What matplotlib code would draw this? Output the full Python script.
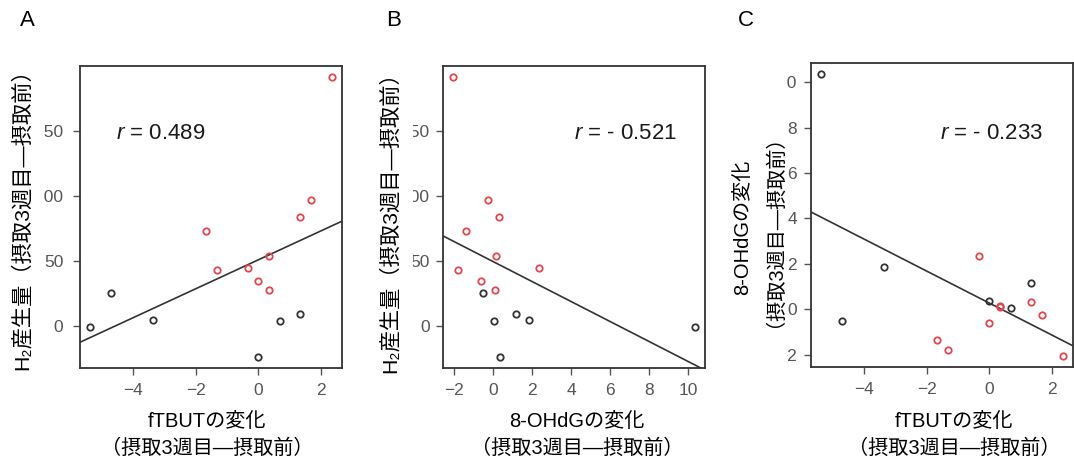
import numpy as np
import matplotlib
matplotlib.use('Agg')
import matplotlib.pyplot as plt
from matplotlib.transforms import Bbox

# ---- data: one entry per subject ----
group = ['red'] * 9 + ['black'] * 6
ftbut = [2.35, 1.68, 1.33, -1.67, -1.33, -0.33, 0.35, 0.00, 0.35,
         -5.37, -4.70, -3.37, 0.67, 1.33, 0.00]            # fTBUT change
h2 = [191.0, 97.0, 83.4, 72.7, 43.0, 44.4, 53.8, 34.7, 28.0,
      -0.5, 25.3, 4.4, 3.6, 9.7, -23.5]                     # H2 production change
ohdg = [-2.05, -0.24, 0.32, -1.35, -1.80, 2.35, 0.15, -0.60, 0.10,
        10.35, -0.52, 1.84, 0.07, 1.17, 0.37]              # 8-OHdG change

panel_letters = ['A', 'B', 'C']
r_texts = ['$r$ = 0.489', '$r$ = - 0.521', '$r$ = - 0.233']
xlabel_l1 = ['fTBUTの変化', '8-OHdGの変化', 'fTBUTの変化']
sub_label = '（摂取3週目—摂取前）'
h2_label = 'H₂産生量（摂取3週目—摂取前）'
ohdg_label = '8-OHdGの変化'

xticks_A = [-4, -2, 0, 2]
xticks_B = [-2, 0, 2, 4, 6, 8, 10]
yticks_h2 = [0, 50, 100, 150]
yticks_oh = [-2, 0, 2, 4, 6, 8, 10]

plt.rcParams['font.family'] = ['Liberation Sans', 'Noto Sans CJK JP', 'DejaVu Sans']
plt.rcParams['mathtext.fontset'] = 'custom'
plt.rcParams['mathtext.rm'] = 'Liberation Sans'
plt.rcParams['mathtext.it'] = 'Liberation Sans:italic'

W, H = 1074, 463
fig = plt.figure(figsize=(W / 100, H / 100), dpi=100)

COL = {'red': '#e2474f', 'black': '#333333'}
TICKC = '#555555'


def px_axes(l, r, t, b):
    return fig.add_axes([l / W, 1 - b / H, (r - l) / W, (b - t) / H])


def rlim(v):
    lo, hi = min(v), max(v)
    p = 0.04 * (hi - lo)
    return lo - p, hi + p


def panel(ax, x, y, xt, yt, rtxt, rpos, ypad):
    x = np.asarray(x)
    y = np.asarray(y)
    for g in ('black', 'red'):
        m = np.array([gg == g for gg in group])
        ax.plot(x[m], y[m], 'o', mfc='none', mec=COL[g], ms=4.6, mew=1.3,
                zorder=3)
    xl = rlim(x)
    yl = rlim(y)
    ax.set_xlim(xl)
    ax.set_ylim(yl)
    k, c = np.polyfit(x, y, 1)
    xs = np.array(xl)
    ax.plot(xs, k * xs + c, color='#333333', lw=1.2, zorder=2)
    ax.set_xticks(xt)
    ax.set_yticks(yt)
    for s in ax.spines.values():
        s.set_color('#333333')
        s.set_linewidth(1.3)
    ax.tick_params(colors=TICKC, labelcolor=TICKC, labelsize=12.5,
                   length=5, width=1)
    ax.tick_params(axis='x', pad=6)
    ax.tick_params(axis='y', pad=ypad)
    ax.text(rpos[0], rpos[1], rtxt, transform=ax.transAxes, ha='center',
            va='center', fontsize=16, color='#1a1a1a')


axA = px_axes(80, 342, 66, 368)
axB = px_axes(443, 705, 66, 368)
axC = px_axes(811, 1073, 63, 367)

panel(axA, ftbut, h2, xticks_A, yticks_h2, r_texts[0], (0.309, 0.778), 7)
panel(axB, ohdg, h2, xticks_B, yticks_h2, r_texts[1], (0.696, 0.778), 4.3)
panel(axC, ftbut, ohdg, xticks_A, yticks_oh, r_texts[2], (0.689, 0.767), 5)


def ftext(x, y, s, **kw):
    fig.text(x / W, 1 - y / H, s, ha='center', va='center', **kw)


# panel letters
for (px, s) in zip([27, 394, 746], panel_letters):
    ftext(px, 21, s, fontsize=16, color='black')

# x labels
for cx, l1 in zip([207, 577, 954], xlabel_l1):
    ftext(cx, 421, l1, fontsize=14.5, color='black')
    ftext(cx, 448, sub_label, fontsize=14.5, color='black')

# y labels
ftext(22, 214, h2_label, fontsize=15.3, rotation=90, color='black')
ftext(390, 217, h2_label, fontsize=15.3, rotation=90, color='black')
ftext(743, 227, ohdg_label, fontsize=14.5, rotation=90, color='black')
ftext(764, 221, sub_label, fontsize=14.5, rotation=90, color='black')

# In the reference the y-axis titles hide the leading characters of the
# tick labels: keep only the trailing digits visible (clip on the left).
fig.canvas.draw()
rend = fig.canvas.get_renderer()
for ax, keep_digits, extra in ((axA, 2, 0.0), (axB, 2, 2.5), (axC, 1, 0.0)):
    labs = ax.get_yticklabels()
    exts = [lab.get_window_extent(rend) for lab in labs]
    x1 = max(e.x1 for e in exts)
    digit_w = min(e.width for e in exts if e.width > 0)  # single "0"
    clip_x = x1 - keep_digits * digit_w + extra
    box = Bbox.from_extents(clip_x, 0, W, H)
    for lab in labs:
        lab.set_clip_box(box)
        lab.set_clip_on(True)

fig.savefig('out.png', dpi=100)
